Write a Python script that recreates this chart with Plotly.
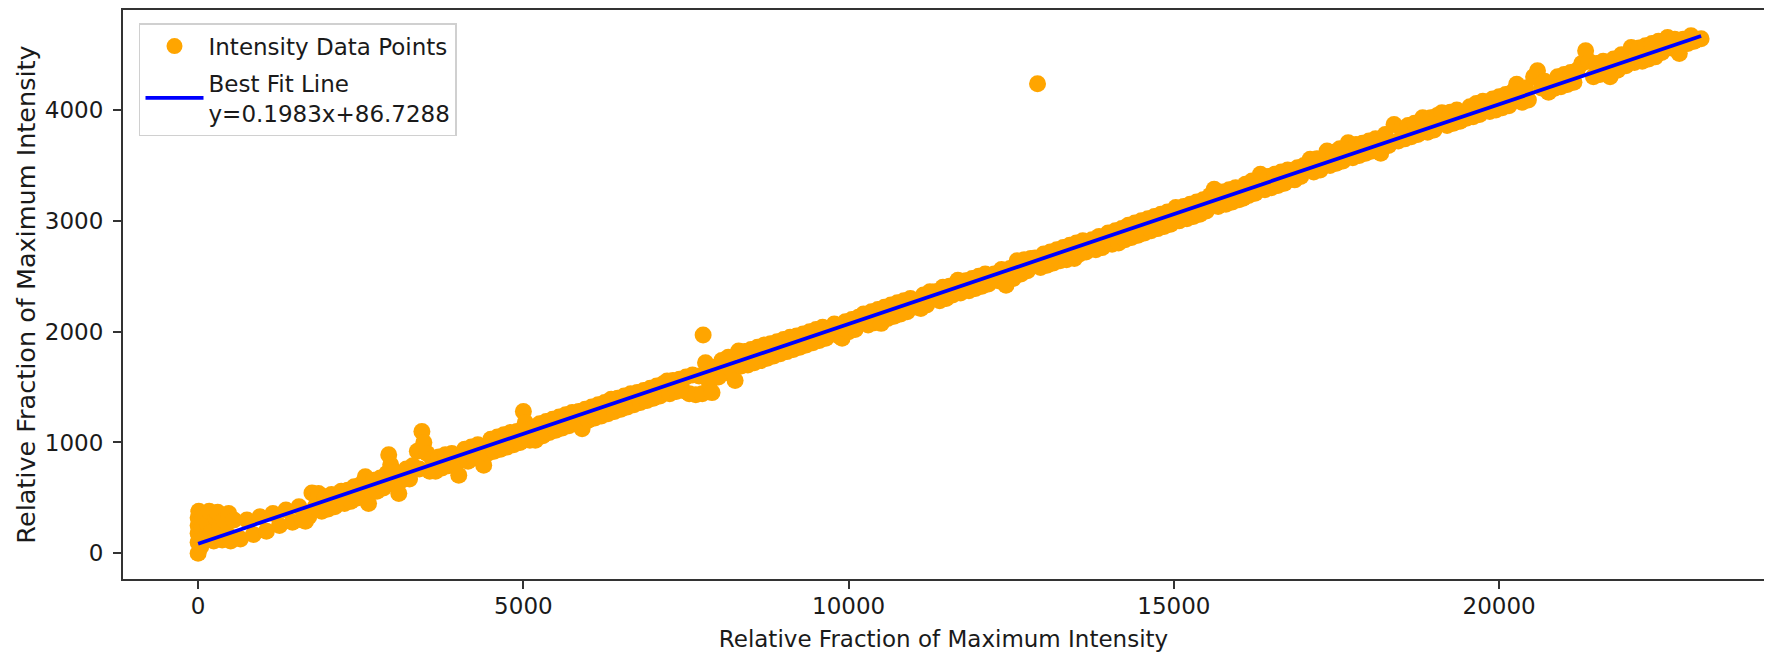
import plotly.graph_objects as go

# ---- data ----
x_values = [
    0, 0, 0, 0, 0, 10, 40, 60, 80, 110, 140, 170, 200, 240, 270, 300, 330, 370, 400, 440, 470, 500,
    550, 650, 750, 850, 950, 1050, 1150, 1250, 1350, 1450, 1550,
    1600, 1650, 1700, 1750, 1800, 1850, 1900, 1950, 2000, 2050, 2100, 2200, 2250, 2300, 2350, 2400, 2450, 2500,
    2570, 2600, 2620, 2660, 2700, 2750, 2800, 2850, 2900, 2930, 2960, 3000, 3040, 3085, 3130, 3200, 3250, 3300, 3370, 3400, 3440, 3470, 3520, 3560,
    3600, 3650, 3700, 3750, 3800, 3850, 3900, 3950, 4007, 4050, 4100, 4150, 4200, 4250, 4300, 4350, 4390, 4450, 4500, 4550, 4600, 4650, 4700, 4750, 4800, 4850, 4900, 4950,
    5000, 5030, 5060, 5100, 5150, 5185, 5250, 5300, 5350, 5400, 5450, 5500, 5550, 5600, 5650, 5700, 5750, 5800, 5850, 5903, 5950,
    6000, 6050, 6100, 6150, 6200, 6250, 6300, 6350, 6400, 6450, 6500, 6550, 6600, 6650, 6700, 6750, 6800, 6850, 6900, 6950, 7000, 7050, 7100, 7150,
    7210, 7250, 7300, 7350, 7400, 7450, 7500, 7550, 7600, 7650, 7700, 7750, 7763, 7800, 7830, 7860, 7900, 7950,
    8000, 8050, 8100, 8150, 8200, 8255, 8310, 8350, 8400, 8450, 8500, 8550, 8600, 8650, 8700, 8750, 8800, 8850, 8900, 8950, 9000, 9050, 9100, 9150, 9200, 9250, 9300, 9350, 9400, 9450, 9500, 9550, 9600, 9650,
    9730, 9780, 9850, 9900, 9950, 10000, 10050, 10100, 10150, 10230, 10300, 10350, 10400, 10450, 10500, 10550, 10600, 10650, 10700, 10750, 10800, 10850, 10900, 10950,
    11000, 11050, 11110, 11150, 11200, 11250, 11330, 11400, 11450, 11500, 11550, 11600, 11680, 11720, 11800, 11850, 11900, 11950, 12000, 12050, 12100, 12150,
    12236, 12300, 12350, 12420, 12480, 12530, 12590, 12650, 12700, 12750, 12800, 12867, 12904, 12950, 13000, 13050, 13100, 13150, 13200, 13250, 13300, 13350, 13400, 13470, 13500, 13550, 13600, 13650, 13740, 13800, 13850, 13900, 13990,
    14050, 14100, 14150, 14200, 14250, 14300, 14350, 14400, 14450, 14500, 14550, 14600, 14650, 14700, 14750, 14800, 14850, 14900, 14950, 15030, 15080, 15150, 15200, 15250, 15300, 15350, 15400, 15450, 15500,
    15560, 15620, 15680, 15750, 15800, 15850, 15900, 15950, 16000, 16065, 16100, 16150, 16200, 16250, 16330, 16400, 16450, 16500, 16550, 16600, 16650, 16700, 16750, 16856, 16900, 16950, 17000,
    17095, 17150, 17200, 17250, 17355, 17400, 17450, 17500, 17550, 17600, 17680, 17750, 17800, 17850, 17900, 17950, 18000, 18050, 18100, 18180, 18250, 18300, 18385, 18450,
    18500, 18550, 18600, 18650, 18700, 18750, 18825, 18900, 18950, 19000, 19050, 19120, 19200, 19250, 19300, 19350, 19400, 19500, 19550, 19600, 19650, 19700, 19750, 19855, 19900, 19950, 20000, 20050, 20100, 20150, 20200,
    20270, 20350, 20400, 20450, 20530, 20590, 20650, 20700, 20760, 20855, 20900, 20950, 21000, 21050, 21100, 21150, 21200, 21270, 21330,
    21380, 21450, 21500, 21550, 21600, 21650, 21706, 21760, 21820, 21880, 21950, 22030, 22080, 22150, 22200, 22250, 22300, 22350, 22400, 22450, 22500, 22590, 22650, 22700, 22770, 22830, 22900, 22950, 23000, 23105,
]
y_values = [
    0, 100, 180, 250, 320, 380, 60, 220, 340, 140, 270, 380, 190, 110, 320, 370, 230, 120, 300, 180, 360, 110,
    300, 130, 300, 170, 330, 200, 360, 250, 390, 280, 420,
    300, 290, 330, 545, 420, 540, 380, 510, 400, 530, 420, 560, 450, 570, 470, 600, 500, 620,
    690, 520, 450, 560, 660, 560, 680, 590, 720, 890, 800, 730, 620, 540, 660, 760, 670, 790, 920, 760, 1100, 1000, 900, 740,
    850, 740, 870, 770, 890, 790, 900, 790, 705, 870, 940, 830, 960, 860, 980, 860, 795, 900, 1030, 920, 1050, 940, 1070, 960, 1090, 980, 1100, 1000,
    1280, 1180, 1110, 1020, 1130, 1020, 1170, 1060, 1190, 1090, 1210, 1110, 1230, 1130, 1250, 1150, 1270, 1170, 1280, 1125, 1300,
    1200, 1320, 1220, 1340, 1240, 1360, 1260, 1390, 1280, 1400, 1300, 1420, 1320, 1440, 1340, 1450, 1360, 1470, 1380, 1490, 1400, 1510, 1420, 1530,
    1555, 1440, 1560, 1460, 1570, 1470, 1590, 1440, 1610, 1430, 1600, 1440, 1970, 1720, 1630, 1540, 1450, 1680,
    1590, 1740, 1630, 1770, 1650, 1560, 1825, 1690, 1820, 1700, 1840, 1720, 1860, 1740, 1880, 1760, 1890, 1780, 1910, 1800, 1930, 1820, 1950, 1840, 1960, 1860, 1980, 1880, 2000, 1900, 2020, 1920, 2040, 1940,
    2010, 2070, 1960, 1940, 2090, 2000, 2110, 2020, 2130, 2160, 2060, 2180, 2080, 2200, 2075, 2220, 2120, 2240, 2140, 2260, 2160, 2280, 2180, 2300,
    2280, 2220, 2210, 2330, 2240, 2360, 2360, 2280, 2400, 2300, 2410, 2330, 2465, 2350, 2460, 2370, 2480, 2390, 2500, 2410, 2520, 2430,
    2520, 2460, 2560, 2420, 2570, 2480, 2640, 2520, 2650, 2550, 2660, 2665, 4237, 2580, 2700, 2600, 2720, 2620, 2740, 2640, 2760, 2650, 2780, 2660, 2800, 2700, 2820, 2720, 2830, 2740, 2860, 2760, 2890,
    2790, 2910, 2800, 2930, 2830, 2960, 2850, 2980, 2870, 3000, 2890, 3020, 2910, 3040, 2930, 3060, 2950, 3080, 2970, 3120, 3000, 3130, 3020, 3150, 3040, 3170, 3060, 3190, 3090,
    3230, 3285, 3130, 3260, 3150, 3280, 3170, 3300, 3190, 3205, 3330, 3230, 3360, 3250, 3420, 3280, 3400, 3300, 3420, 3320, 3440, 3340, 3460, 3370, 3480, 3400, 3500,
    3555, 3440, 3560, 3460, 3630, 3500, 3620, 3520, 3650, 3540, 3705, 3570, 3690, 3590, 3700, 3610, 3720, 3630, 3740, 3610, 3780, 3680, 3870, 3720,
    3830, 3740, 3860, 3760, 3880, 3780, 3930, 3800, 3930, 3820, 3950, 3975, 3860, 3980, 3880, 4000, 3900, 3927, 4030, 3940, 4060, 3960, 4080, 3987, 4100, 4000, 4120, 4020, 4140, 4040, 4160,
    4233, 4070, 4200, 4090, 4300, 4355, 4200, 4260, 4160, 4197, 4300, 4210, 4320, 4230, 4340, 4250, 4360, 4420, 4535,
    4440, 4300, 4420, 4320, 4440, 4340, 4300, 4460, 4360, 4500, 4400, 4565, 4430, 4560, 4440, 4580, 4460, 4600, 4480, 4620, 4520, 4655, 4560, 4640, 4510, 4640, 4600, 4670, 4620, 4643,
]
assert len(x_values) == len(y_values)

fit_slope = 0.1983
fit_intercept = 86.7288

x_ticks = [0, 5000, 10000, 15000, 20000]
y_ticks = [0, 1000, 2000, 3000, 4000]
x_tick_labels = ["0", "5000", "10000", "15000", "20000"]
y_tick_labels = ["0", "1000", "2000", "3000", "4000"]
x_title = "Relative Fraction of Maximum Intensity"
y_title = "Relative Fraction of Maximum Intensity"
points_label = "Intensity Data Points"
fit_label = "Best Fit Line<br>y=%.4fx+%.4f" % (fit_slope, fit_intercept)

FONT = "DejaVu Sans"
TEXT = "#1a1a1a"
AXIS = "#333333"

# The page body has an 8px default margin, so the figure is sized to fit
# inside the 1772x660 window without scrollbars.
FIG_W, FIG_H = 1756, 644

fig = go.Figure()
fig.add_trace(go.Scatter(
    x=x_values, y=y_values, mode="markers", name=points_label,
    legendgroup="pts",
    marker=dict(color="#FFA500", size=17, line=dict(width=0)),
))
x_line = [min(x_values), max(x_values)]
y_line = [fit_slope * v + fit_intercept for v in x_line]
fig.add_trace(go.Scatter(
    x=x_line, y=y_line, mode="lines", name=fit_label,
    legendgroup="fit",
    line=dict(color="#0000FF", width=3.8),
))

fig.update_layout(
    width=FIG_W, height=FIG_H,
    margin=dict(l=115, r=0, t=2, b=73, autoexpand=False),
    paper_bgcolor="white", plot_bgcolor="white",
    font=dict(family=FONT, size=23, color=TEXT),
    showlegend=True,
    legend=dict(
        x=0.00975, y=0.977, xanchor="left", yanchor="top",
        bgcolor="white", bordercolor="#d0d0d0", borderwidth=1.5,
        font=dict(family=FONT, size=23, color=TEXT),
        itemwidth=58, tracegroupgap=4,
    ),
)
fig.update_xaxes(
    range=[-1155, 24072], tickvals=x_ticks, ticktext=x_tick_labels,
    ticks="outside", ticklen=8,
    tickwidth=1.5, tickcolor=AXIS, showline=True, linecolor=AXIS, linewidth=2,
    mirror=True, showgrid=False, zeroline=False, automargin=False,
    ticklabelstandoff=-3,
    tickfont=dict(family=FONT, size=23, color=TEXT),
    title=dict(text=x_title, standoff=24, font=dict(family=FONT, size=23, color=TEXT)),
)
fig.update_yaxes(
    range=[-232, 4903], tickvals=y_ticks, ticktext=y_tick_labels,
    ticks="outside", ticklen=8,
    tickwidth=1.5, tickcolor=AXIS, showline=True, linecolor=AXIS, linewidth=2,
    mirror=False, showgrid=False, zeroline=False, automargin=False,
    ticklabelstandoff=5,
    tickfont=dict(family=FONT, size=23, color=TEXT),
    title=dict(text=y_title, standoff=2, font=dict(family=FONT, size=25.5, color=TEXT)),
)

fig.write_html("out.html")
